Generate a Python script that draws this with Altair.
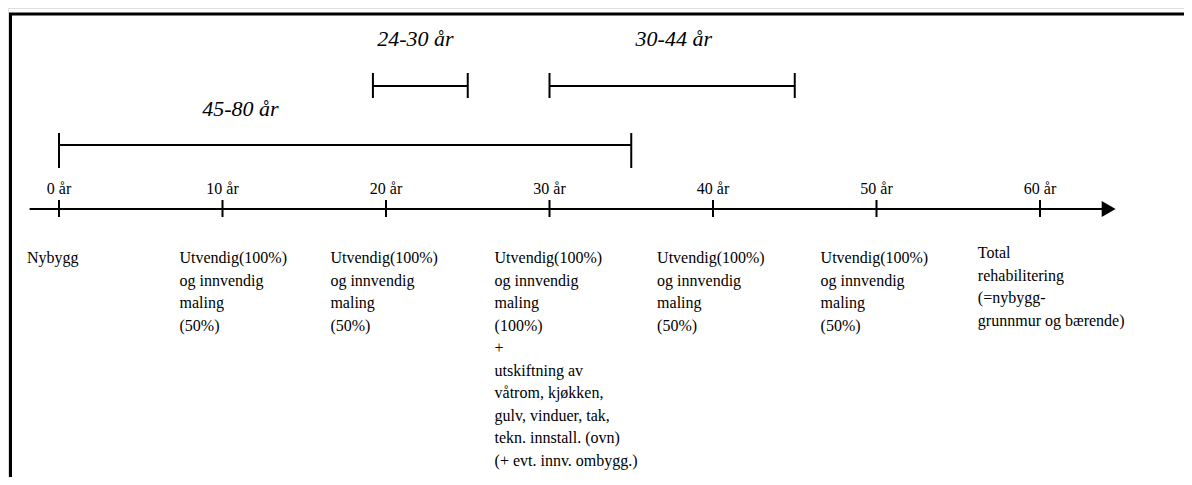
import altair as alt
import pandas as pd

# ---------------- data ----------------
tick_years = [0, 10, 20, 30, 40, 50, 60]
tick_labels = ["0 år", "10 år", "20 år", "30 år", "40 år", "50 år", "60 år"]

span_start = [0, 19.2, 30]
span_end = [35, 25, 45]
span_labels = ["45-80 år", "24-30 år", "30-44 år"]

maling50 = "Utvendig(100%)\nog innvendig\nmaling\n(50%)"
desc_texts = [
    "Nybygg",
    maling50,
    maling50,
    "Utvendig(100%)\nog innvendig\nmaling\n(100%)\n+\nutskiftning av\nvåtrom, kjøkken,\n"
    "gulv,  vinduer, tak,\ntekn. innstall. (ovn)\n(+ evt. innv. ombygg.)",
    maling50,
    maling50,
    "Total\nrehabilitering\n(=nybygg-\ngrunnmur og bærende)",
]

# ---------------- layout ----------------
W, H = 1176, 469
PX_PER_YEAR = 16.35
X0 = 51  # chart px of year 0
FONT = "'Liberation Serif', 'Times New Roman', Times, serif"

xs = alt.Scale(domain=[-X0 / PX_PER_YEAR, (W - X0) / PX_PER_YEAR], range=[0, W], nice=False, zero=False)
ys = alt.Scale(domain=[8, 8 + H], range=[0, H], nice=False, zero=False)

AXIS_Y = 209
span_y = [145, 86, 86]
span_cap_top = [133, 73, 73]
span_cap_bot = [168, 98, 98]
span_label_x = [11.1, 21.8, 37.6]
span_label_y = [109, 39, 39]
desc_x_off = [-1.96, -2.63, -3.4, -3.36, -3.42, -3.42, -3.8]
desc_y_top = [250, 250, 250, 250, 250, 250, 245]


def X(f):
    return alt.X(f, type="quantitative", scale=xs, axis=None)


def Y(f):
    return alt.Y(f, type="quantitative", scale=ys, axis=None)


# frame
frame_df = pd.DataFrame({"a": [0]})
frame_top = alt.Chart(frame_df).mark_rule(color="black", strokeWidth=3).encode(
    x=alt.value(1), x2=alt.value(W), y=alt.value(6)
)
frame_left = alt.Chart(frame_df).mark_rule(color="black", strokeWidth=3).encode(
    x=alt.value(2.5), y=alt.value(6), y2=alt.value(H)
)

# axis line + arrow
axis_df = pd.DataFrame({"x": [-1.8], "x2": [64.0], "y": [AXIS_Y]})
axis_line = alt.Chart(axis_df).mark_rule(color="black", strokeWidth=2).encode(
    x=X("x"), x2="x2", y=Y("y")
)
arrow_df = pd.DataFrame({"x": [64.2], "y": [AXIS_Y]})
arrow = alt.Chart(arrow_df).mark_point(
    shape="triangle-right", filled=True, color="black", opacity=1, size=260
).encode(x=X("x"), y=Y("y"))

# ticks
tick_df = pd.DataFrame({"year": tick_years, "label": tick_labels,
                        "y1": [AXIS_Y - 9] * 7, "y2": [AXIS_Y + 8] * 7, "ly": [189] * 7})
ticks = alt.Chart(tick_df).mark_rule(color="black", strokeWidth=2).encode(
    x=X("year"), y=Y("y1"), y2="y2"
)
tick_text = alt.Chart(tick_df).mark_text(
    font=FONT, fontSize=16, color="black", align="center", baseline="middle"
).encode(x=X("year"), y=Y("ly"), text="label")

# brackets
span_df = pd.DataFrame({
    "start": span_start, "end": span_end, "label": span_labels,
    "y": span_y, "ct": span_cap_top, "cb": span_cap_bot,
    "lx": span_label_x, "ly": span_label_y,
})
span_line = alt.Chart(span_df).mark_rule(color="black", strokeWidth=2).encode(
    x=X("start"), x2="end", y=Y("y")
)
cap_start = alt.Chart(span_df).mark_rule(color="black", strokeWidth=2).encode(
    x=X("start"), y=Y("ct"), y2="cb"
)
cap_end = alt.Chart(span_df).mark_rule(color="black", strokeWidth=2).encode(
    x=X("end"), y=Y("ct"), y2="cb"
)
span_text = alt.Chart(span_df).mark_text(
    font=FONT, fontSize=22, fontStyle="italic", color="black", align="center", baseline="middle"
).encode(x=X("lx"), y=Y("ly"), text="label")

# descriptions
desc_df = pd.DataFrame({
    "x": [y + o for y, o in zip(tick_years, desc_x_off)],
    "y": desc_y_top,
    "text": desc_texts,
})
desc = alt.Chart(desc_df).mark_text(
    font=FONT, fontSize=16, color="black", align="left", baseline="top",
    lineBreak="\n", lineHeight=22.5
).encode(x=X("x"), y=Y("y"), text="text")

chart = alt.layer(
    frame_top, frame_left, axis_line, arrow, ticks, tick_text,
    span_line, cap_start, cap_end, span_text, desc
).properties(
    width=W, height=H, padding=0, autosize=alt.AutoSizeParams(type="none")
).configure_view(stroke=None).configure(background="white")

chart.save("out.html", embed_options={"renderer": "svg", "actions": False})
